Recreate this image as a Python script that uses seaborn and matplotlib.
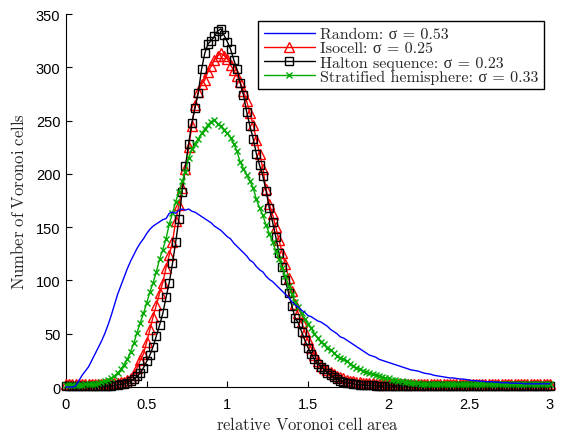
import numpy as np
import pandas as pd
import matplotlib
matplotlib.use("Agg")
import matplotlib.pyplot as plt
import seaborn as sns

# bin centres of the relative cell area histogram (bin width 0.02)
area = np.round(np.arange(151) * 0.02, 3)

random_counts = [
    0, 0, 0, 1, 6, 11, 15, 19, 25, 31,
    37, 43, 50, 58, 67, 77, 87, 95, 103, 111,
    118, 124, 130, 135, 139, 144, 148, 151, 153, 155,
    157, 158, 163, 164, 163, 166, 167, 166, 167, 165,
    164, 162, 160, 158, 156, 154, 151, 149, 147, 144,
    141, 139, 135, 132, 129, 126, 123, 119, 117, 113,
    110, 108, 104, 101, 99, 96, 93, 90, 87, 84,
    80, 77, 75, 72, 70, 67, 66, 64, 62, 61,
    59, 57, 54, 52, 50, 47, 46, 44, 42, 40,
    38, 36, 34, 32, 30, 29, 28, 26, 25, 24,
    23, 22, 21, 20, 19, 18, 17, 16, 15.5, 15,
    14, 13, 12.5, 12, 11, 10.5, 10, 9.5, 9, 8.5,
    8.5, 8, 7.5, 7.5, 7, 6.5, 6, 6, 5.5, 5.5,
    5, 5, 5, 4.5, 4.5, 4, 4, 4, 3.5, 3.5,
    3.5, 3.5, 3, 3, 3, 3, 3, 3, 3, 3,
    3]

isocell_counts = [
    2.5, 2.5, 2.5, 2.5, 2.5, 2.5, 2.5, 2.5, 2.5, 2.5,
    2.5, 3, 3, 3, 3.5, 4, 4, 4.5, 5, 6.5,
    8, 11, 18, 25, 31, 42, 54, 66, 77, 88,
    98, 112, 124, 136, 156, 171, 187, 205, 225, 245,
    265, 277, 284, 288, 296, 301, 307, 311, 313, 311,
    308, 302, 297, 292, 286, 278, 268, 257, 246, 232,
    219, 205, 186, 172, 162, 150, 138, 126, 115, 102,
    90, 78, 69, 61, 52, 44, 36.5, 30, 24, 20,
    17.5, 15.5, 14, 12, 10.5, 9, 8, 7, 6, 5.5,
    5, 4.5, 4, 4, 3.5, 3.5, 3, 3, 3, 3,
    3, 3, 3, 3, 3, 3, 3, 3, 3, 3,
    3, 3, 3, 3, 3, 3, 3, 3, 3, 3,
    3, 3, 3, 3, 3, 3, 3, 3, 3, 3,
    3, 3, 3, 3, 3, 3, 3, 3, 3, 3,
    3, 3, 3, 3, 3, 3, 3, 3, 3, 3,
    3]

halton_counts = [
    0.5, 0.5, 0.5, 0.5, 0.5, 0.5, 0.5, 0.5, 0.5, 0.5,
    0.5, 0.5, 1, 1, 1, 1.5, 2, 2.5, 3, 4,
    5.5, 7.5, 10, 13, 18, 24, 30, 38, 48, 58,
    69, 84, 98, 116, 136, 158, 183, 207, 228, 248,
    262, 276, 298, 313, 322, 325, 329, 334, 336, 330,
    324, 317, 307, 298, 285, 274, 258, 245, 233, 219,
    208, 198, 184, 168, 155, 141, 126, 113, 100, 88,
    76, 65, 60, 52, 44, 37, 31, 26, 22, 19,
    16.5, 13.5, 11, 9, 7.5, 6, 5, 4, 3.5, 3,
    2.5, 2, 2, 1.5, 1.5, 1.5, 1, 1, 1, 1,
    1, 1, 1, 1, 1, 1, 1, 1, 1, 1,
    0.5, 0.5, 0.5, 0.5, 0.5, 0.5, 0.5, 0.5, 0.5, 0.5,
    0.5, 0.5, 0.5, 0.5, 0.5, 0.5, 0.5, 0.5, 0.5, 0.5,
    0.5, 0.5, 0.5, 0.5, 0.5, 0.5, 0.5, 0.5, 0.5, 0.5,
    0.5, 0.5, 0.5, 0.5, 0.5, 0.5, 0.5, 0.5, 0.5, 0.5,
    0.5]

stratified_counts = [
    2, 2, 2, 2, 2, 2, 2.5, 2.5, 3, 3,
    3.5, 4.5, 5.5, 7, 8.5, 10.5, 13, 16.5, 21, 26,
    33, 41, 51, 60, 69, 79, 89, 98, 108, 120,
    129, 139, 153, 163, 174, 183, 193, 202, 215, 223,
    228, 233, 238, 242, 246, 249, 251, 247, 245, 241,
    238, 234, 228, 221, 211, 205, 199, 193, 187, 176,
    168, 161, 152, 144, 136, 128, 120, 112, 104, 95,
    87, 80, 75, 69, 64, 59, 55, 50, 46, 42,
    40, 37, 35, 32, 29, 27, 26, 24, 22, 20,
    18, 16.5, 15, 14, 13, 12, 11, 10, 9.5, 8.5,
    8, 7, 6.5, 6, 5.5, 5, 4.5, 4, 3.5, 3.5,
    3, 3, 3, 3, 2.5, 2.5, 2.5, 2.5, 2.5, 2.5,
    2.5, 2.5, 2.5, 2.5, 2.5, 2.5, 2.5, 2.5, 2.5, 2.5,
    2.5, 2.5, 2.5, 2.5, 2.5, 2.5, 2.5, 2.5, 2.5, 2.5,
    2.5, 2.5, 2.5, 2.5, 2.5, 2.5, 2.5, 2.5, 2.5, 2.5,
    2.5]

series_labels = [
    "Random: \u03c3 = 0.53",
    "Isocell: \u03c3 = 0.25",
    "Halton sequence: \u03c3 = 0.23",
    "Stratified hemisphere: \u03c3 = 0.33",
]
xticks = [0, 0.5, 1, 1.5, 2, 2.5, 3]
xtick_labels = ["0", "0.5", "1", "1.5", "2", "2.5", "3"]
yticks = [0, 50, 100, 150, 200, 250, 300, 350]

for arr in (random_counts, isocell_counts, halton_counts, stratified_counts):
    assert len(arr) == len(area), len(arr)

df = pd.DataFrame({
    "area": np.tile(area, 4),
    "count": np.concatenate([random_counts, isocell_counts,
                             halton_counts, stratified_counts]),
    "method": np.repeat(series_labels, len(area)),
})

sns.set_style("ticks")
plt.rcParams["mathtext.fontset"] = "cm"
plt.rcParams["font.family"] = ["Liberation Sans", "DejaVu Sans"]

fig = plt.figure(figsize=(5.61, 4.35), dpi=100)
ax = fig.add_axes([66 / 561, 1 - 388 / 435, (550 - 66) / 561, (388 - 15) / 435])

styles = [
    dict(color="#0000FF", lw=1.0, zorder=5),
    dict(color="#FF0000", lw=1.0, marker="^", ms=7.0, mfc="none", mec="#FF0000", mew=1.0, zorder=3),
    dict(color="#000000", lw=1.0, marker="s", ms=5.5, mfc="none", mec="#000000", mew=1.0, zorder=4),
    dict(color="#00AA00", lw=1.0, marker="x", ms=4.0, mec="#00AA00", mew=1.0, zorder=4.5),
]

for lab, st in zip(series_labels, styles):
    sub = df[df["method"] == lab]
    sns.lineplot(data=sub, x="area", y="count", ax=ax, label=lab,
                 estimator=None, clip_on=False, **st)

ax.set_xlim(0, 3)
ax.set_ylim(0, 350)
ax.set_xticks(xticks)
ax.set_xticklabels(xtick_labels)
ax.set_yticks(yticks)
ax.tick_params(direction="in", length=4, width=0.8, labelsize=10.5, colors="black", pad=4)
ax.tick_params(axis="x", pad=7)
for s in ["top", "right"]:
    ax.spines[s].set_visible(False)
for s in ["left", "bottom"]:
    ax.spines[s].set_color("black")
    ax.spines[s].set_linewidth(0.8)

ax.set_xlabel(r"$\mathrm{relative\ Voronoi\ cell\ area}$", fontsize=12, labelpad=3)
ax.set_ylabel(r"$\mathrm{Number\ of\ Voronoi\ cells}$", fontsize=12, labelpad=6)

leg = ax.legend(loc="upper right", bbox_to_anchor=(0.988, 0.98), borderaxespad=0,
                prop={"family": ["cmr10", "Liberation Serif"], "size": 11.5},
                frameon=True, fancybox=False, framealpha=1,
                edgecolor="black", handlelength=3.2, handletextpad=0.35,
                labelspacing=0.0, borderpad=0.35, numpoints=1)
leg.get_frame().set_linewidth(1.0)

fig.savefig("out.png", dpi=100)
